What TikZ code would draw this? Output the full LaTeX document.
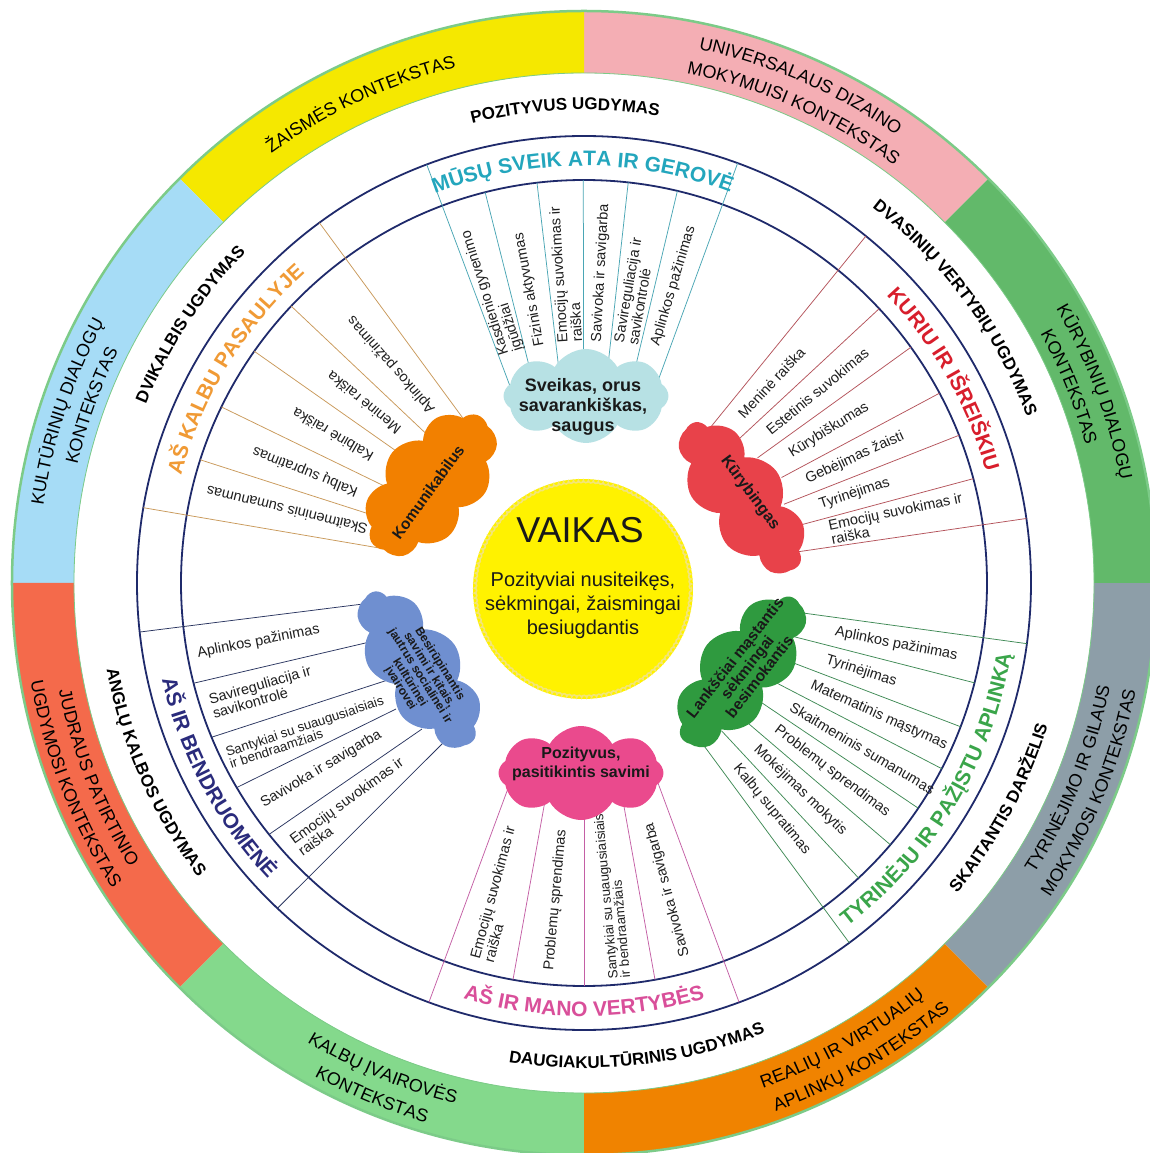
\documentclass[tikz,border=0pt]{standalone}
\usepackage{fontspec}
\setmainfont{Liberation Sans}
\usetikzlibrary{decorations.text,decorations.pathmorphing,shapes.symbols}
\definecolor{bYellow}{HTML}{F5E800}
\definecolor{bPink}{HTML}{F4AEB4}
\definecolor{bGreen}{HTML}{62B96A}
\definecolor{bGrey}{HTML}{8D9EA8}
\definecolor{bOrange}{HTML}{F08300}
\definecolor{bLgreen}{HTML}{84D98C}
\definecolor{bRed}{HTML}{F46A4B}
\definecolor{bBlue}{HTML}{A6DCF6}
\definecolor{rim}{HTML}{7CCB88}
\definecolor{navy}{HTML}{1F2A6B}
\definecolor{tTeal}{HTML}{23A6BD}
\definecolor{tRed}{HTML}{D81E2C}
\definecolor{tGreen}{HTML}{3AA54A}
\definecolor{tPink}{HTML}{D94F9A}
\definecolor{tNavy}{HTML}{2A2B7C}
\definecolor{tOrange}{HTML}{F09A35}
\definecolor{lTeal}{HTML}{4AA6B5}
\definecolor{lRed}{HTML}{B4535B}
\definecolor{lGreen}{HTML}{3F8A55}
\definecolor{lPink}{HTML}{C45FA5}
\definecolor{lNavy}{HTML}{2A3560}
\definecolor{lOrange}{HTML}{C9995A}
\definecolor{cTeal}{HTML}{B7E1E4}
\definecolor{cRed}{HTML}{E8424A}
\definecolor{cGreen}{HTML}{2F9A3F}
\definecolor{cPink}{HTML}{EA4A8D}
\definecolor{cBlue}{HTML}{6F8FD0}
\definecolor{cOrange}{HTML}{F28000}
\definecolor{vYellow}{HTML}{FFF200}
\definecolor{vEdge}{HTML}{F3E577}
\tikzset{
 itm/.style={font=\fontsize{14.5}{13.5}\selectfont, align=left, inner sep=1pt, text=black!88},
 itmS/.style={itm, font=\fontsize{13.3}{12.5}\selectfont},
 cld/.style={cloud, cloud puffs=#1, cloud puff arc=120, draw=none, inner sep=0pt},
 ctxt/.style={align=center, text=black!90, inner sep=0pt},
 rad/.style={line width=0.75},
}
\newcommand\bandf{\fontsize{18}{18}\selectfont}
\newcommand\ugf{\fontsize{17}{17}\selectfont\bfseries}
\newcommand\titf{\fontsize{21}{21}\selectfont\bfseries}
\newcommand\seg[3]{\fill[#1] (#2:572) arc[start angle=#2, end angle=#3, radius=572] -- (#3:510) arc[start angle=#3, end angle=#2, radius=510] -- cycle;}
\newcommand\cwtext[5]{\path[decorate,decoration={text along path,text align=center,text color=#4,text={|#3|#5}}] (#1+70:#2) arc[start angle=#1+70,end angle=#1-70,radius=#2];}
\newcommand\ccwtext[5]{\path[decorate,decoration={text along path,text align=center,text color=#4,text={|#3|#5}}] (#1-70:#2) arc[start angle=#1-70,end angle=#1+70,radius=#2];}
\newcommand\itout[4]{\node[itm, rotate=#2, anchor=west] (#1) at (#2:#3) {#4};}
\newcommand\itin[5]{\node[itm, rotate=#5, anchor=west] (#1) at (#2:#3) {#4};}
\newcommand\itinS[5]{\node[itmS, rotate=#5, anchor=west] (#1) at (#2:#3) {#4};}
\begin{document}
\begin{tikzpicture}[x=1pt,y=1pt]
\useasboundingbox (-584,-570) rectangle (566,583);
\clip (-584,-570) rectangle (566,583);
\fill[white] (-584,-570) rectangle (566,583);
% outer context band
\seg{bPink}{45}{90}
\seg{bYellow}{90}{135}
\seg{bBlue}{135}{180}
\seg{bRed}{180}{225}
\seg{bLgreen}{225}{270}
\seg{bOrange}{270}{315}
\seg{bGrey}{315}{360}
\seg{bGreen}{0}{45}
\draw[rim, line width=2.5] (0,0) circle[radius=572];
\draw[rim, line width=0.8] (0,0) circle[radius=510];
% band texts
\cwtext{115}{531}{\bandf}{black}{ŽAISMĖS KONTEKSTAS}
\cwtext{66.5}{546}{\bandf}{black}{UNIVERSALAUS DIZAINO}
\cwtext{66}{520}{\bandf}{black}{MOKYMUISI KONTEKSTAS}
\cwtext{20.5}{546}{\bandf}{black}{KŪRYBINIŲ DIALOGŲ}
\cwtext{22}{520}{\bandf}{black}{KONTEKSTAS}
\ccwtext{-22}{536}{\bandf}{black}{TYRINĖJIMO IR GILAUS}
\ccwtext{-22.5}{562}{\bandf}{black}{MOKYMOSI KONTEKSTAS}
\ccwtext{-60.5}{536}{\bandf}{black}{REALIŲ IR VIRTUALIŲ}
\ccwtext{-59.7}{562}{\bandf}{black}{APLINKŲ KONTEKSTAS}
\ccwtext{-112.5}{536}{\bandf}{black}{KALBŲ ĮVAIROVĖS}
\ccwtext{-112.5}{562}{\bandf}{black}{KONTEKSTAS}
\ccwtext{201.8}{536}{\bandf}{black}{JUDRAUS PATIRTINIO}
\ccwtext{201.5}{562}{\bandf}{black}{UGDYMOSI KONTEKSTAS}
\cwtext{161.7}{546}{\bandf}{black}{KULTŪRINIŲ DIALOGŲ}
\cwtext{160.2}{520}{\bandf}{black}{KONTEKSTAS}
% ugdymas ring
\cwtext{92.3}{473}{\ugf}{black}{POZITYVUS UGDYMAS}
\cwtext{36.5}{473}{\ugf}{black}{DVASINIŲ VERTYBIŲ UGDYMAS}
\ccwtext{-28.4}{485}{\ugf}{black}{SKAITANTIS DARŽELIS}
\ccwtext{-83.5}{485}{\ugf}{black}{DAUGIAKULTŪRINIS UGDYMAS}
\ccwtext{203.8}{485}{\ugf}{black}{ANGLŲ KALBOS UGDYMAS}
\cwtext{146.7}{473}{\ugf}{black}{DVIKALBIS UGDYMAS}
% navy rings
\draw[navy, line width=1.8] (0,0) circle[radius=447];
\draw[navy, line width=1.8] (0,0) circle[radius=403];
% radial lines
\foreach \a/\i/\o in {110.6/189/447,104.2/201/403,96.7/216/403,90.1/219/403,83.7/213/403,76.6/202/403,69.9/207/447}
  \draw[lTeal, rad] (\a:\i) -- (\a:\o);
\foreach \a/\i/\o in {50.9/195/447,42.9/200/403,35.8/214/403,28.1/224/403,21.5/215/403,15.0/209/403,8.3/206/447}
  \draw[lRed, rad] (\a:\i) -- (\a:\o);
\foreach \a/\i/\o in {-7.8/202/447,-14.34/210/403,-20.89/213/403,-27.43/213/403,-33.97/212/403,-40.51/213/403,-47.06/202/403,-53.6/189/447}
  \draw[lGreen, rad] (\a:\i) -- (\a:\o);
\foreach \a/\i/\o in {-110.3/208/447,-100.15/219/403,-90/225/403,-79.85/217/403,-69.7/202/447}
  \draw[lPink, rad] (\a:\i) -- (\a:\o);
\foreach \a/\o/\p in {186.3/447/{(-205,-19)},194.4/403/{(-210,-58)},202.5/403/{(-190,-95)},210.5/403/{(-188,-126)},218.6/403/{(-162,-146)},226.7/447/{(-137,-156)}}
  \draw[lNavy, rad] (\a:\o) -- \p;
\foreach \a/\i/\o in {126.3/189/447,136.6/199/403,144.9/211/403,154.1/216/403,162.2/206/403,170.3/198/447}
  \draw[lOrange, rad] (\a:\i) -- (\a:\o);
% section titles
\cwtext{90.2}{417}{\titf}{tTeal}{MŪSŲ SVEIK ATA IR GEROVĖ}
\cwtext{29.5}{417}{\titf}{tRed}{KURIU IR IŠREIŠKIU}
\ccwtext{-31}{433}{\titf}{tGreen}{TYRINĖJU IR PAŽĮSTU APLINKĄ}
\ccwtext{-90}{433}{\titf}{tPink}{AŠ IR MANO VERTYBĖS}
\ccwtext{208}{433}{\titf}{tNavy}{AŠ IR BENDRUOMENĖ}
\cwtext{148.5}{417}{\titf}{tOrange}{AŠ KALBU PASAULYJE}
% items: top
\itout{t1}{107.4}{240}{Kasdienio gyvenimo\\įgūdžiai}
\itout{t2}{100.5}{240}{Fizinis aktyvumas}
\itout{t3}{93.4}{240}{Emocijų suvokimas ir\\raiška}
\itout{t4}{86.9}{240}{Savivoka ir savigarba}
\itout{t5}{80.15}{242}{Savireguliacija ir\\savikontrolė}
\itout{t6}{73.25}{247}{Aplinkos pažinimas}
% items: right top
\itout{r1}{46.9}{228}{Meninė raiška}
\itout{r2}{39.35}{237}{Estetinis suvokimas}
\itout{r3}{31.95}{242}{Kūrybiškumas}
\itout{r4}{24.8}{244}{Gebėjimas žaisti}
\itout{r5}{18.25}{247}{Tyrinėjimas}
\itout{r6}{11.65}{250}{Emocijų suvokimas ir\\raiška}
% items: right bottom
\itout{g1}{-11.07}{255}{Aplinkos pažinimas}
\itout{g2}{-17.62}{253}{Tyrinėjimas}
\itout{g3}{-24.16}{248}{Matematinis mąstymas}
\itout{g4}{-30.7}{240}{Skaitmeninis sumanumas}
\itout{g5}{-37.24}{240}{Problemų sprendimas}
\itout{g6}{-43.79}{237}{Mokėjimas mokytis}
\itout{g7}{-50.33}{237}{Kalbų supratimas}
% items: bottom
\itin{p1}{-105.2}{392}{Emocijų suvokimas ir\\raiška}{74.8}
\itin{p2}{-95.1}{390}{Problemų sprendimas}{84.9}
\itinS{p3}{-84.9}{398}{Santykiai su suaugusiaisiais\\ir bendraamžiais}{95.1}
\itin{p4}{-74.8}{388}{Savivoka ir savigarba}{105.2}
% items: left bottom
\itin{b1}{190.35}{394}{Aplinkos pažinimas}{11}
\itin{b2}{198.3}{394}{Savireguliacija ir\\savikontrolė}{16}
\itinS{b3}{206.2}{398}{Santykiai su suaugusiaisiais\\ir bendraamžiais}{18.5}
\itin{b4}{214.55}{392}{Savivoka ir savigarba}{31}
\itin{b5}{222.4}{392}{Emocijų suvokimas ir\\raiška}{36}
% items: left top
\itout{o1}{131.4}{228}{Aplinkos pažinimas}
\itout{o2}{140.75}{238}{Meninė raiška}
\itout{o3}{149.5}{245}{Kalbinė raiška}
\itout{o4}{158.15}{243}{Kalbų supratimas}
\itout{o5}{166.25}{222}{Skaitmeninis sumanumas}
% clouds
\node[cld=8, fill=cTeal, minimum width=165, minimum height=94, aspect=1.8] (cloudT) at (2,187) {};
\node[cld=8, fill=cPink, minimum width=165, minimum height=94, aspect=1.8] (cloudP) at (-3,-190) {};
\node[cld=9, fill=cRed, minimum width=178, minimum height=86, aspect=2.1, rotate=-53.5] (cloudR) at (158,86) {};
\node[cld=9, fill=cGreen, minimum width=180, minimum height=86, aspect=2.1, rotate=52] (cloudG) at (157,-88) {};
\node[cld=9, fill=cOrange, minimum width=168, minimum height=100, aspect=1.7, rotate=50] (cloudO) at (-153,99) {};
\node[cld=9, fill=cBlue, minimum width=180, minimum height=86, aspect=2.1, rotate=-56] (cloudB) at (-165,-86) {};
\node[ctxt, font=\fontsize{18}{20}\selectfont\bfseries] (cloudTt) at (-1,176) {Sveikas, orus\\savarankiškas,\\saugus};
\node[ctxt, font=\fontsize{16}{19}\selectfont\bfseries] (cloudPt) at (-3,-181) {Pozityvus,\\pasitikintis savimi};
\node[ctxt, font=\fontsize{16}{18}\selectfont\bfseries, rotate=-53.5] (cloudRt) at (166,90) {Kūrybingas};
\node[ctxt, font=\fontsize{15.5}{15.5}\selectfont\bfseries, rotate=52] (cloudGt) at (163,-84) {Lankščiai mąstantis\\sėkmingai\\besimokantis};
\node[ctxt, font=\fontsize{15.5}{17}\selectfont\bfseries, rotate=54] (cloudOt) at (-156,91) {Komunikabilus};
\node[ctxt, font=\fontsize{12}{11}\selectfont\bfseries, rotate=-58] (cloudBt) at (-164,-93) {Besirūpinantis\\savimi ir kitais,\\jautrus socialinei ir\\kultūrinei\\įvairovei};
% centre
\node[circle, fill=vYellow, minimum size=220, inner sep=0pt] (vaikas) at (-1,-6) {};
\draw[vEdge, line width=1.6, decorate, decoration={bumps, segment length=10, amplitude=2.2}] (vaikas.center) circle[radius=108.5];
\node[ctxt, font=\fontsize{36}{40}\selectfont] (vaikasT) at (-4,53) {VAIKAS};
\node[ctxt, font=\fontsize{20}{24}\selectfont] (vaikasS) at (-1,-22) {Pozityviai nusiteikęs,\\sėkmingai, žaismingai\\besiugdantis};
\end{tikzpicture}
\end{document}
